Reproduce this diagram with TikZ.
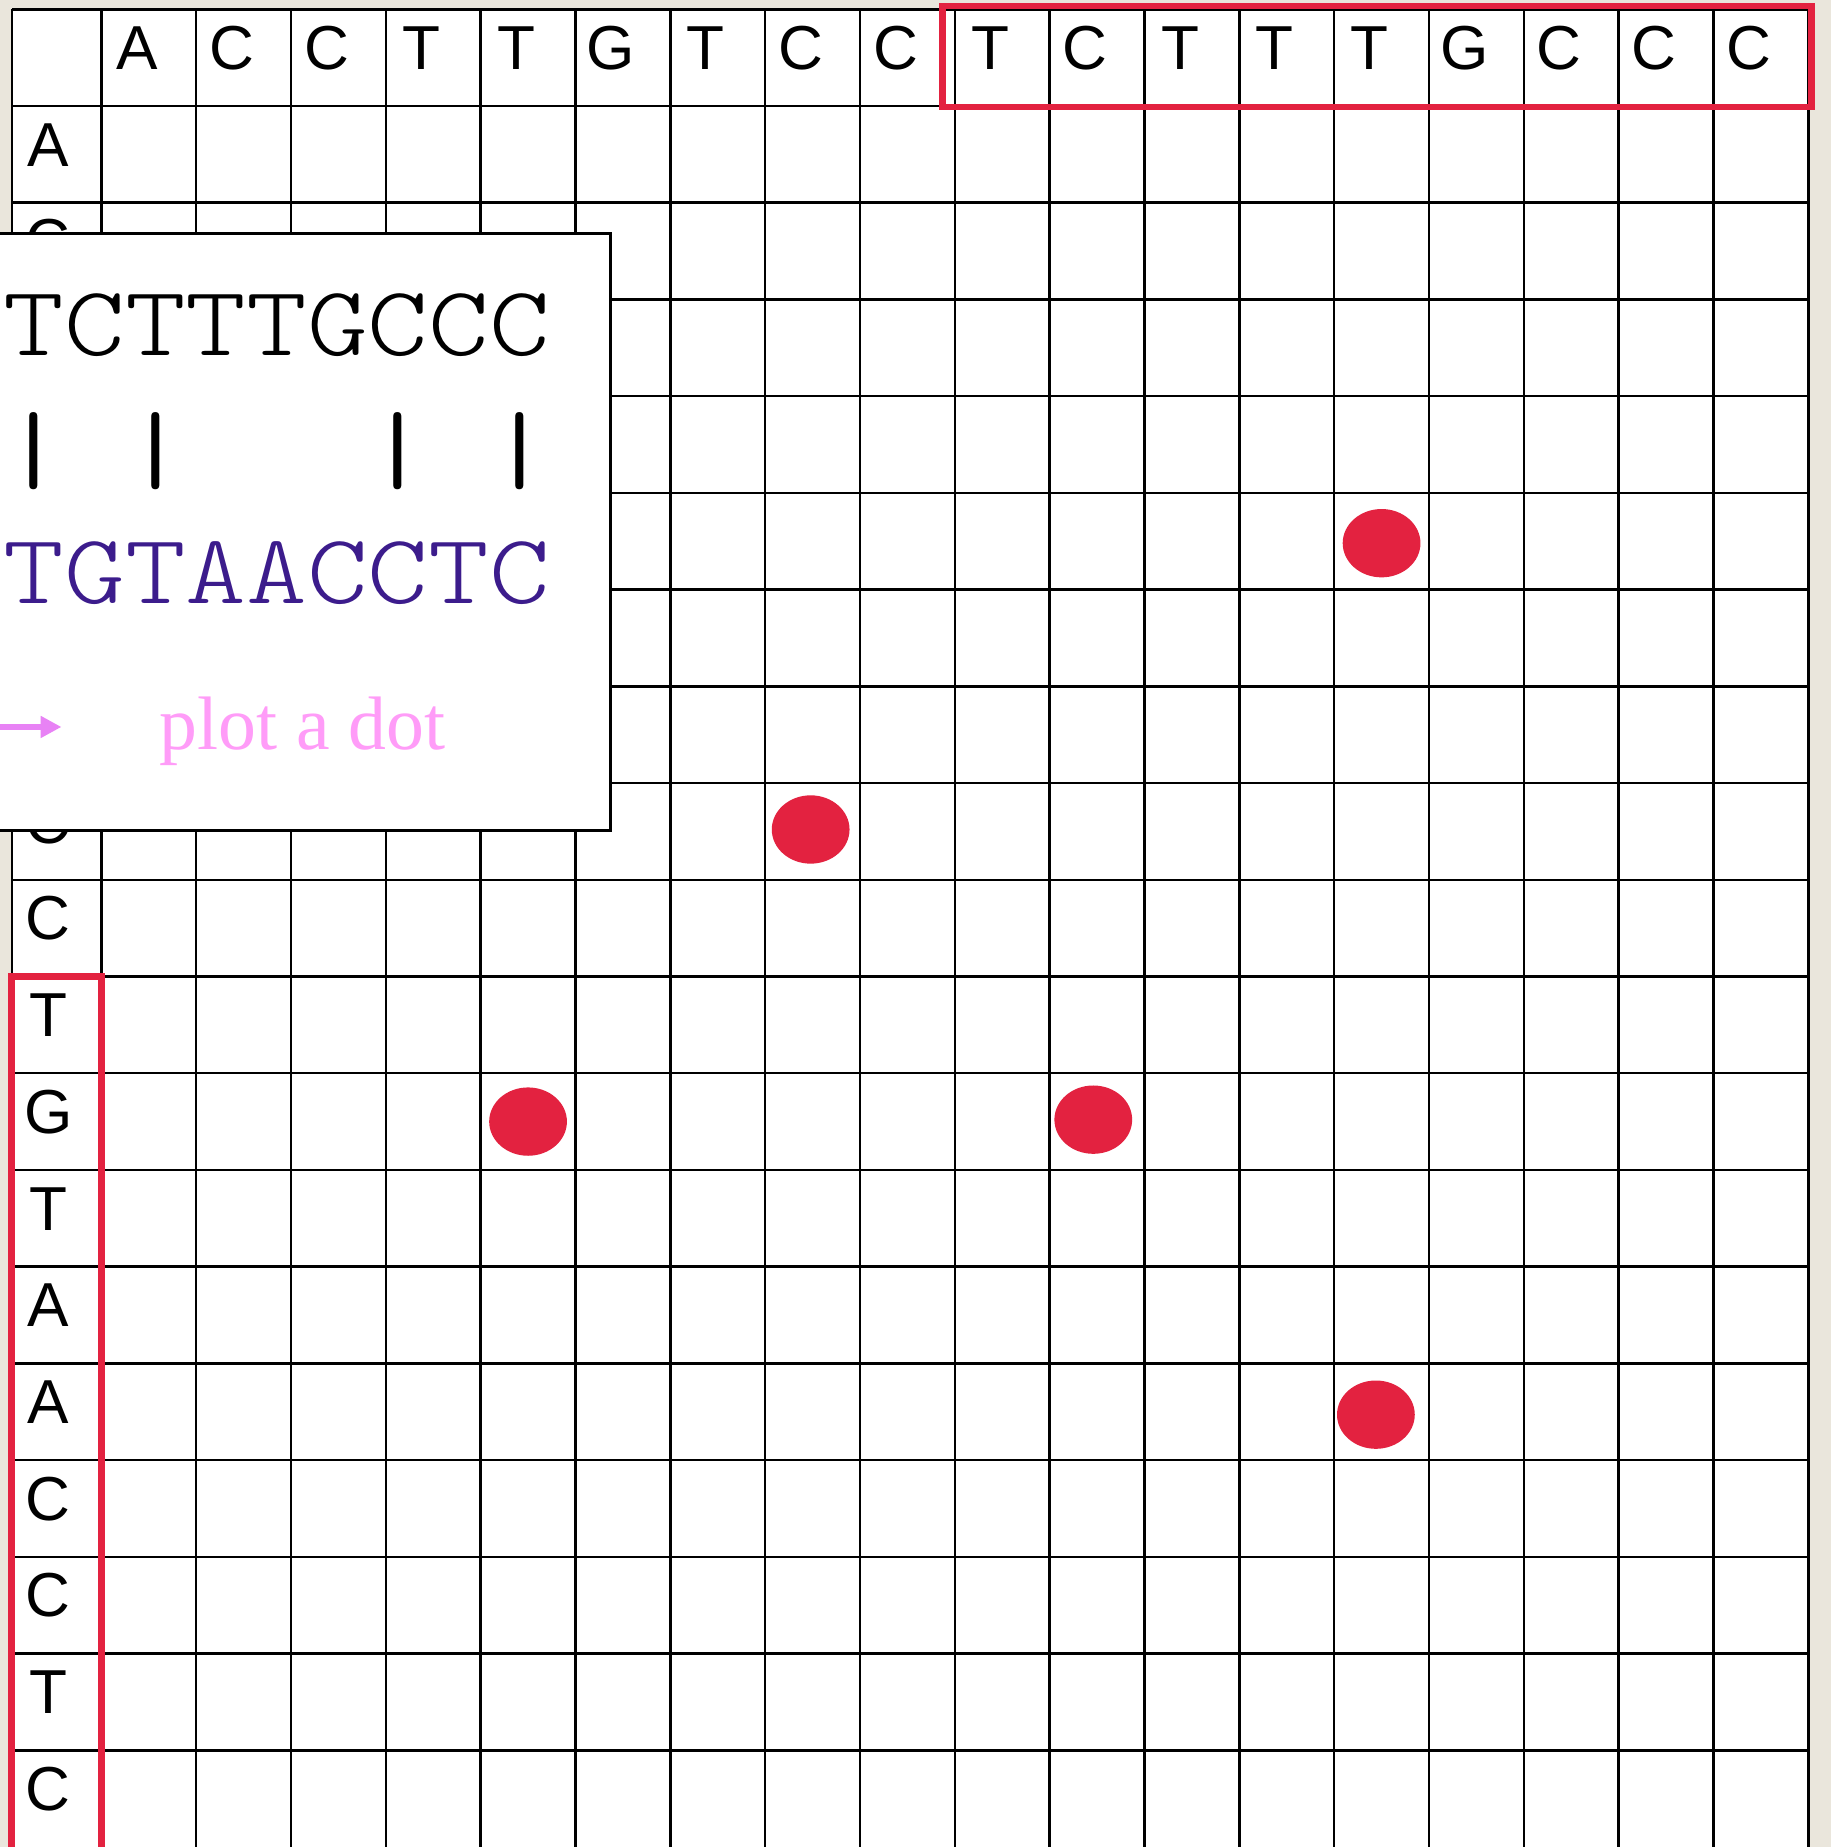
\documentclass[tikz,border=0pt]{standalone}
\usepackage{fontspec}
\usepackage{tikz}
\usetikzlibrary{arrows.meta}
\definecolor{paper}{HTML}{EAE6DC}
\definecolor{dotred}{HTML}{E32240}
\definecolor{seqpurple}{HTML}{3C1C8C}
\definecolor{notepink}{HTML}{FF9CF8}
\definecolor{arrowpink}{HTML}{E882F5}
\newfontfamily\gridfont{Liberation Sans}
\newfontfamily\seqfont{lmmonolt10-regular}[Extension=.otf, FakeStretch=1.163]
\newfontfamily\barfont{lmmono10-regular}[Extension=.otf, FakeStretch=1.163]
\newfontfamily\notefont{Liberation Serif}
\tikzset{
	baseletter/.style={font=\gridfont\fontsize{15}{16}\selectfont, inner sep=0pt}
}
\tikzset{
	seqtext/.style={font=\seqfont\fontsize{24}{24}\selectfont, inner sep=0pt}
}

\begin{document}
\begin{tikzpicture}[x=0.805cm, y=-0.821cm, line width=0.6pt]
      \useasboundingbox (-1.068,-1.096) rectangle (18.236,18.0);

      % paper behind the table, white table
      \fill[paper] (-1.068,-1.096) rectangle (18.236,18.0);
      \fill[white] (-0.944,-1) rectangle (18,18);

      % grid lines
      \draw (-0.944,-1) -- (-0.944,18);
      \foreach \x in {0,...,18} {
        \draw (\x,-1) -- (\x,18);
      }
      \foreach \y in {-1,0,...,17} {
        \draw (-0.944,\y) -- (18,\y);
      }

      % first sequence along the top
      \foreach \b [count=\i] in {A,C,C,T,T,G,T,C,C,T,C,T,T,T,G,C,C,C} {
        \node[baseletter] (top\i) at (\i-0.625,-0.6) {\b};
      }
      % second sequence down the side (rows 3 to 7 sit under the panel)
      \foreach \b/\j in {A/1,C/2,C/8,C/9,T/10,G/11,T/12,A/13,A/14,C/15,C/16,T/17,C/18} {
        \node[baseletter] (side\j) at (-0.56,\j-0.6) {\b};
      }

      % dots of the plot
      \foreach \p in {(13.5,4.52),(7.48,7.48),(4.5,10.5),(10.46,10.48),(13.44,13.53)} {
        \fill[dotred] \p ellipse [x radius=0.33cm, y radius=0.29cm];
      }

      % red frames round the two windows
      \draw[dotred, line width=1.6pt] (8.87,-1.035) rectangle (18.03,0.012);
      \draw[dotred, line width=1.6pt] (-0.944,18) -- (-0.944,9) -- (0,9) -- (0,18);

      % panel comparing the two windows
      \fill[white] (-1.068,1.315) rectangle (5.366,7.491);
      \draw[line width=0.7pt] (-1.068,1.315) -- (5.366,1.315) -- (5.366,7.491) -- (-1.068,7.491);
      \node[seqtext, anchor=base west] (winA) at (-1.040,2.582) {TCTTTGCCC};
      \node[seqtext, font=\barfont\fontsize{24}{24}\selectfont, anchor=west] (bars) at (-1.040,3.569) {|~|~~~|~|};
      \node[seqtext, anchor=base west, text=seqpurple] (winB) at (-1.040,5.14) {TGTAACCTC};

      \coordinate (arrowtail) at (-1.068,6.42);
      \coordinate (arrowtip) at (-0.42,6.42);
      \draw[arrowpink, line width=1.6pt, -{Triangle[length=5pt,width=5pt]}] (arrowtail) -- (arrowtip);
      \node[font=\notefont\fontsize{18.3}{20}\selectfont, text=notepink, inner sep=0pt, anchor=base west] (note) at (0.6,6.65) {plot a dot};
\end{tikzpicture}
\end{document}
